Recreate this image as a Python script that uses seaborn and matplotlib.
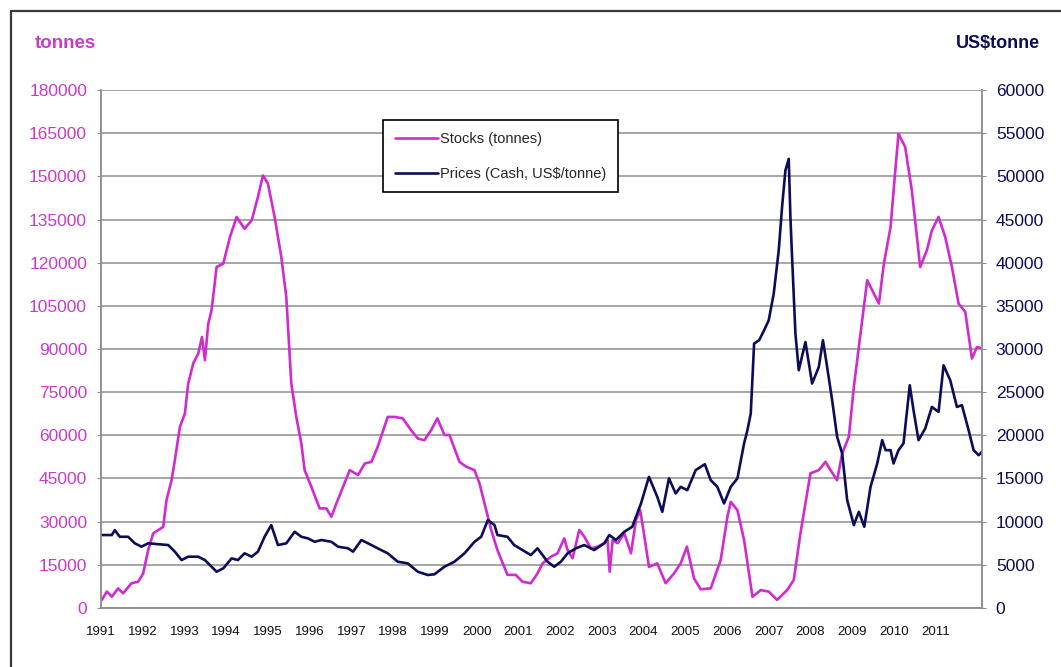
import matplotlib
matplotlib.use("Agg")
import matplotlib.pyplot as plt
from matplotlib.patches import Rectangle
import seaborn as sns
import pandas as pd
import numpy as np

# LME nickel: warehouse stocks (tonnes) and cash price (US$/tonne), 1991-2011
stock_years = [
    1991.02, 1991.14, 1991.26, 1991.41, 1991.53, 1991.73, 1991.89, 1992.01, 1992.13, 1992.25,
    1992.49, 1992.57, 1992.69, 1992.77, 1992.89, 1993.01, 1993.09, 1993.21, 1993.33, 1993.42,
    1993.49, 1993.57, 1993.65, 1993.77, 1993.93, 1994.09, 1994.25, 1994.44, 1994.61, 1994.76,
    1994.88, 1995.00, 1995.16, 1995.32, 1995.44, 1995.56, 1995.68, 1995.80, 1995.88, 1996.04,
    1996.24, 1996.40, 1996.52, 1996.64, 1996.80, 1996.96, 1997.16, 1997.32, 1997.48, 1997.63,
    1997.87, 1998.03, 1998.23, 1998.43, 1998.59, 1998.75, 1998.91, 1999.06, 1999.23, 1999.35,
    1999.59, 1999.75, 1999.95, 2000.07, 2000.19, 2000.35, 2000.50, 2000.74, 2000.94, 2001.10,
    2001.30, 2001.46, 2001.58, 2001.78, 2001.94, 2002.10, 2002.18, 2002.30, 2002.46, 2002.58,
    2002.74, 2002.90, 2003.06, 2003.14, 2003.19, 2003.26, 2003.38, 2003.54, 2003.70, 2003.82,
    2003.92, 2004.01, 2004.13, 2004.33, 2004.53, 2004.73, 2004.89, 2005.04, 2005.21, 2005.37,
    2005.61, 2005.85, 2006.01, 2006.09, 2006.25, 2006.41, 2006.61, 2006.81, 2007.00, 2007.20,
    2007.44, 2007.60, 2007.76, 2008.00, 2008.20, 2008.36, 2008.48, 2008.64, 2008.76, 2008.92,
    2009.04, 2009.20, 2009.36, 2009.52, 2009.64, 2009.76, 2009.92, 2010.04, 2010.11, 2010.27,
    2010.43, 2010.63, 2010.79, 2010.91, 2011.07, 2011.23, 2011.39, 2011.55, 2011.71, 2011.87,
    2011.99, 2012.11,
]
stock_tonnes = [
    2800, 5700, 3900, 6800, 5100, 8600, 9100, 12000, 20100, 25900,
    28200, 37500, 44400, 51400, 62900, 67600, 78000, 85000, 88400, 94200,
    86100, 98800, 103500, 118500, 119700, 128900, 135900, 131800, 134700, 142800,
    150300, 147500, 135900, 122000, 108100, 78000, 66400, 57200, 47900, 42100,
    34600, 34600, 31700, 36300, 42100, 47900, 46200, 50200, 50800, 56000,
    66400, 66400, 65900, 61800, 58900, 58300, 61800, 65900, 60100, 60100,
    50800, 49100, 47900, 43300, 36300, 27100, 20100, 11500, 11500, 9100,
    8600, 12000, 15500, 17800, 19000, 24200, 20100, 17300, 27100, 24800,
    20700, 21300, 22500, 23600, 12600, 23600, 22500, 25900, 19000, 30600,
    34000, 25900, 14300, 15500, 8600, 12000, 15500, 21300, 10300, 6500,
    6800, 16700, 31700, 36900, 34000, 23600, 3900, 6200, 5700, 2800,
    6200, 9700, 25900, 46800, 47900, 50800, 47900, 44400, 53700, 59500,
    76800, 95400, 113900, 109300, 105800, 119700, 132400, 153200, 164800, 160200,
    145100, 118500, 124300, 131200, 135900, 128900, 118500, 105800, 102900, 86700,
    90700, 90200,
]

price_years = [
    1991.02, 1991.26, 1991.33, 1991.45, 1991.65, 1991.81, 1991.97, 1992.13, 1992.61, 1992.77,
    1992.93, 1993.09, 1993.33, 1993.49, 1993.65, 1993.77, 1993.93, 1994.13, 1994.28, 1994.44,
    1994.61, 1994.76, 1994.92, 1995.08, 1995.24, 1995.44, 1995.64, 1995.80, 1995.96, 1996.12,
    1996.28, 1996.52, 1996.68, 1996.92, 1997.04, 1997.24, 1997.48, 1997.63, 1997.87, 1998.11,
    1998.35, 1998.59, 1998.83, 1998.99, 1999.23, 1999.47, 1999.71, 1999.95, 2000.11, 2000.27,
    2000.43, 2000.50, 2000.74, 2000.90, 2001.10, 2001.30, 2001.46, 2001.70, 2001.86, 2002.02,
    2002.18, 2002.38, 2002.58, 2002.82, 2003.06, 2003.18, 2003.34, 2003.54, 2003.73, 2003.94,
    2004.13, 2004.33, 2004.45, 2004.61, 2004.77, 2004.89, 2005.05, 2005.25, 2005.47, 2005.61,
    2005.77, 2005.93, 2006.09, 2006.25, 2006.41, 2006.49, 2006.57, 2006.65, 2006.77, 2006.89,
    2007.00, 2007.12, 2007.24, 2007.32, 2007.40, 2007.48, 2007.52, 2007.56, 2007.64, 2007.72,
    2007.88, 2008.04, 2008.20, 2008.30, 2008.40, 2008.52, 2008.64, 2008.76, 2008.88, 2009.04,
    2009.16, 2009.29, 2009.44, 2009.60, 2009.72, 2009.80, 2009.92, 2009.99, 2010.11, 2010.23,
    2010.38, 2010.47, 2010.59, 2010.75, 2010.91, 2011.07, 2011.19, 2011.35, 2011.51, 2011.63,
    2011.79, 2011.91, 2012.03, 2012.11,
]
price_usd = [
    8450, 8450, 9020, 8250, 8250, 7490, 7100, 7490, 7290, 6520,
    5550, 5940, 5940, 5550, 4780, 4200, 4590, 5750, 5550, 6330,
    5940, 6520, 8250, 9600, 7290, 7490, 8830, 8250, 8060, 7670,
    7870, 7670, 7100, 6910, 6520, 7870, 7290, 6910, 6330, 5360,
    5170, 4200, 3820, 3900, 4780, 5360, 6330, 7670, 8250, 10180,
    9600, 8450, 8250, 7290, 6710, 6130, 6910, 5360, 4780, 5360,
    6330, 6910, 7290, 6710, 7490, 8450, 7870, 8830, 9410, 12110,
    15190, 12880, 11140, 15010, 13270, 14030, 13650, 15970, 16650, 14810,
    14030, 12110, 14030, 15010, 19060, 20600, 22530, 30630, 31010, 32170,
    33320, 36410, 41420, 46430, 50680, 52030, 45270, 40650, 31780, 27540,
    30810, 26000, 27920, 31010, 27920, 24070, 19820, 17900, 12500, 9600,
    11140, 9410, 14030, 16740, 19440, 18280, 18280, 16740, 18280, 19060,
    25800, 22910, 19440, 20790, 23290, 22710, 28110, 26380, 23290, 23490,
    20600, 18280, 17700, 18080,
]

year_ticks = list(range(1991, 2012))
stock_ticks = list(range(0, 180001, 15000))
price_ticks = list(range(0, 60001, 5000))

stock_label = "Stocks (tonnes)"
price_label = "Prices (Cash, US$/tonne)"

MAGENTA = "#D02AD0"
MAGENTA_TXT = "#C83CC8"
NAVY = "#0C0C58"
GRID = "#8E8E8E"

sns.set_style("white")
plt.rcParams["font.family"] = ["Liberation Sans", "DejaVu Sans"]

stocks = pd.DataFrame({"year": stock_years, "tonnes": stock_tonnes, "series": stock_label})
prices = pd.DataFrame({"year": price_years, "usd": price_usd, "series": price_label})

fig = plt.figure(figsize=(10.61, 6.67), dpi=100)
ax = fig.add_axes([0.0952, 0.0885, 0.8303, 0.7765])
ax2 = ax.twinx()

sns.lineplot(data=stocks, x="year", y="tonnes", ax=ax, color=MAGENTA, linewidth=1.9,
             label=stock_label, legend=False)
sns.lineplot(data=prices, x="year", y="usd", ax=ax2, color=NAVY, linewidth=1.9,
             label=price_label, legend=False)

ax.set_xlim(stock_years[0] - 0.02, stock_years[-1])
ax.set_ylim(0, 180000)
ax2.set_ylim(0, 60000)

ax.set_xticks(year_ticks)
ax.set_xticklabels([str(y) for y in year_ticks])
ax.set_yticks(stock_ticks)
ax.set_yticklabels([str(v) for v in stock_ticks])
ax2.set_yticks(price_ticks)
ax2.set_yticklabels([str(v) for v in price_ticks])

ax.set_xlabel("")
ax.set_ylabel("")
ax2.set_ylabel("")

ax.yaxis.grid(True, color=GRID, linewidth=1.1)
ax.xaxis.grid(False)
ax2.grid(False)
ax.set_axisbelow(True)

for a in (ax, ax2):
    a.spines["top"].set_visible(False)
    for side in ("left", "right", "bottom"):
        a.spines[side].set_color(GRID)
        a.spines[side].set_linewidth(1.1)

ax.tick_params(axis="x", length=0, pad=13, labelsize=9.5, labelcolor="#111111")
ax.tick_params(axis="y", left=True, length=3, color=GRID, pad=7, labelsize=12.5,
               labelcolor=MAGENTA_TXT)
ax2.tick_params(axis="y", right=True, length=3, color=GRID, pad=7, labelsize=12.5,
                labelcolor=NAVY)

fig.text(35 / 1061, 1 - 43 / 667, "tonnes", color=MAGENTA_TXT, fontsize=13.5,
         fontweight="bold", ha="left", va="center")
fig.text(1040 / 1061, 1 - 43 / 667, "US$tonne", color=NAVY, fontsize=13,
         fontweight="bold", ha="right", va="center")

h1, l1 = ax.get_legend_handles_labels()
h2, l2 = ax2.get_legend_handles_labels()
leg = ax2.legend(h1 + h2, l1 + l2, loc="upper left", bbox_to_anchor=(383 / 1061, 1 - 120 / 667),
                 bbox_transform=fig.transFigure, frameon=True, fancybox=False, shadow=False,
                 fontsize=10.5, handlelength=3.0, handletextpad=0.1, borderpad=0.8,
                 labelspacing=1.45, borderaxespad=0)
leg.get_frame().set_edgecolor("black")
leg.get_frame().set_linewidth(1.2)
leg.get_frame().set_facecolor("white")
leg.get_frame().set_alpha(1)

# outer chart frame
fig.patches.append(Rectangle((11 / 1061, -0.1), 1.2, 1 - 11 / 667 + 0.1, transform=fig.transFigure,
                             fill=False, edgecolor="#3A3A3A", linewidth=1.6))

fig.savefig("out.png", dpi=100)
